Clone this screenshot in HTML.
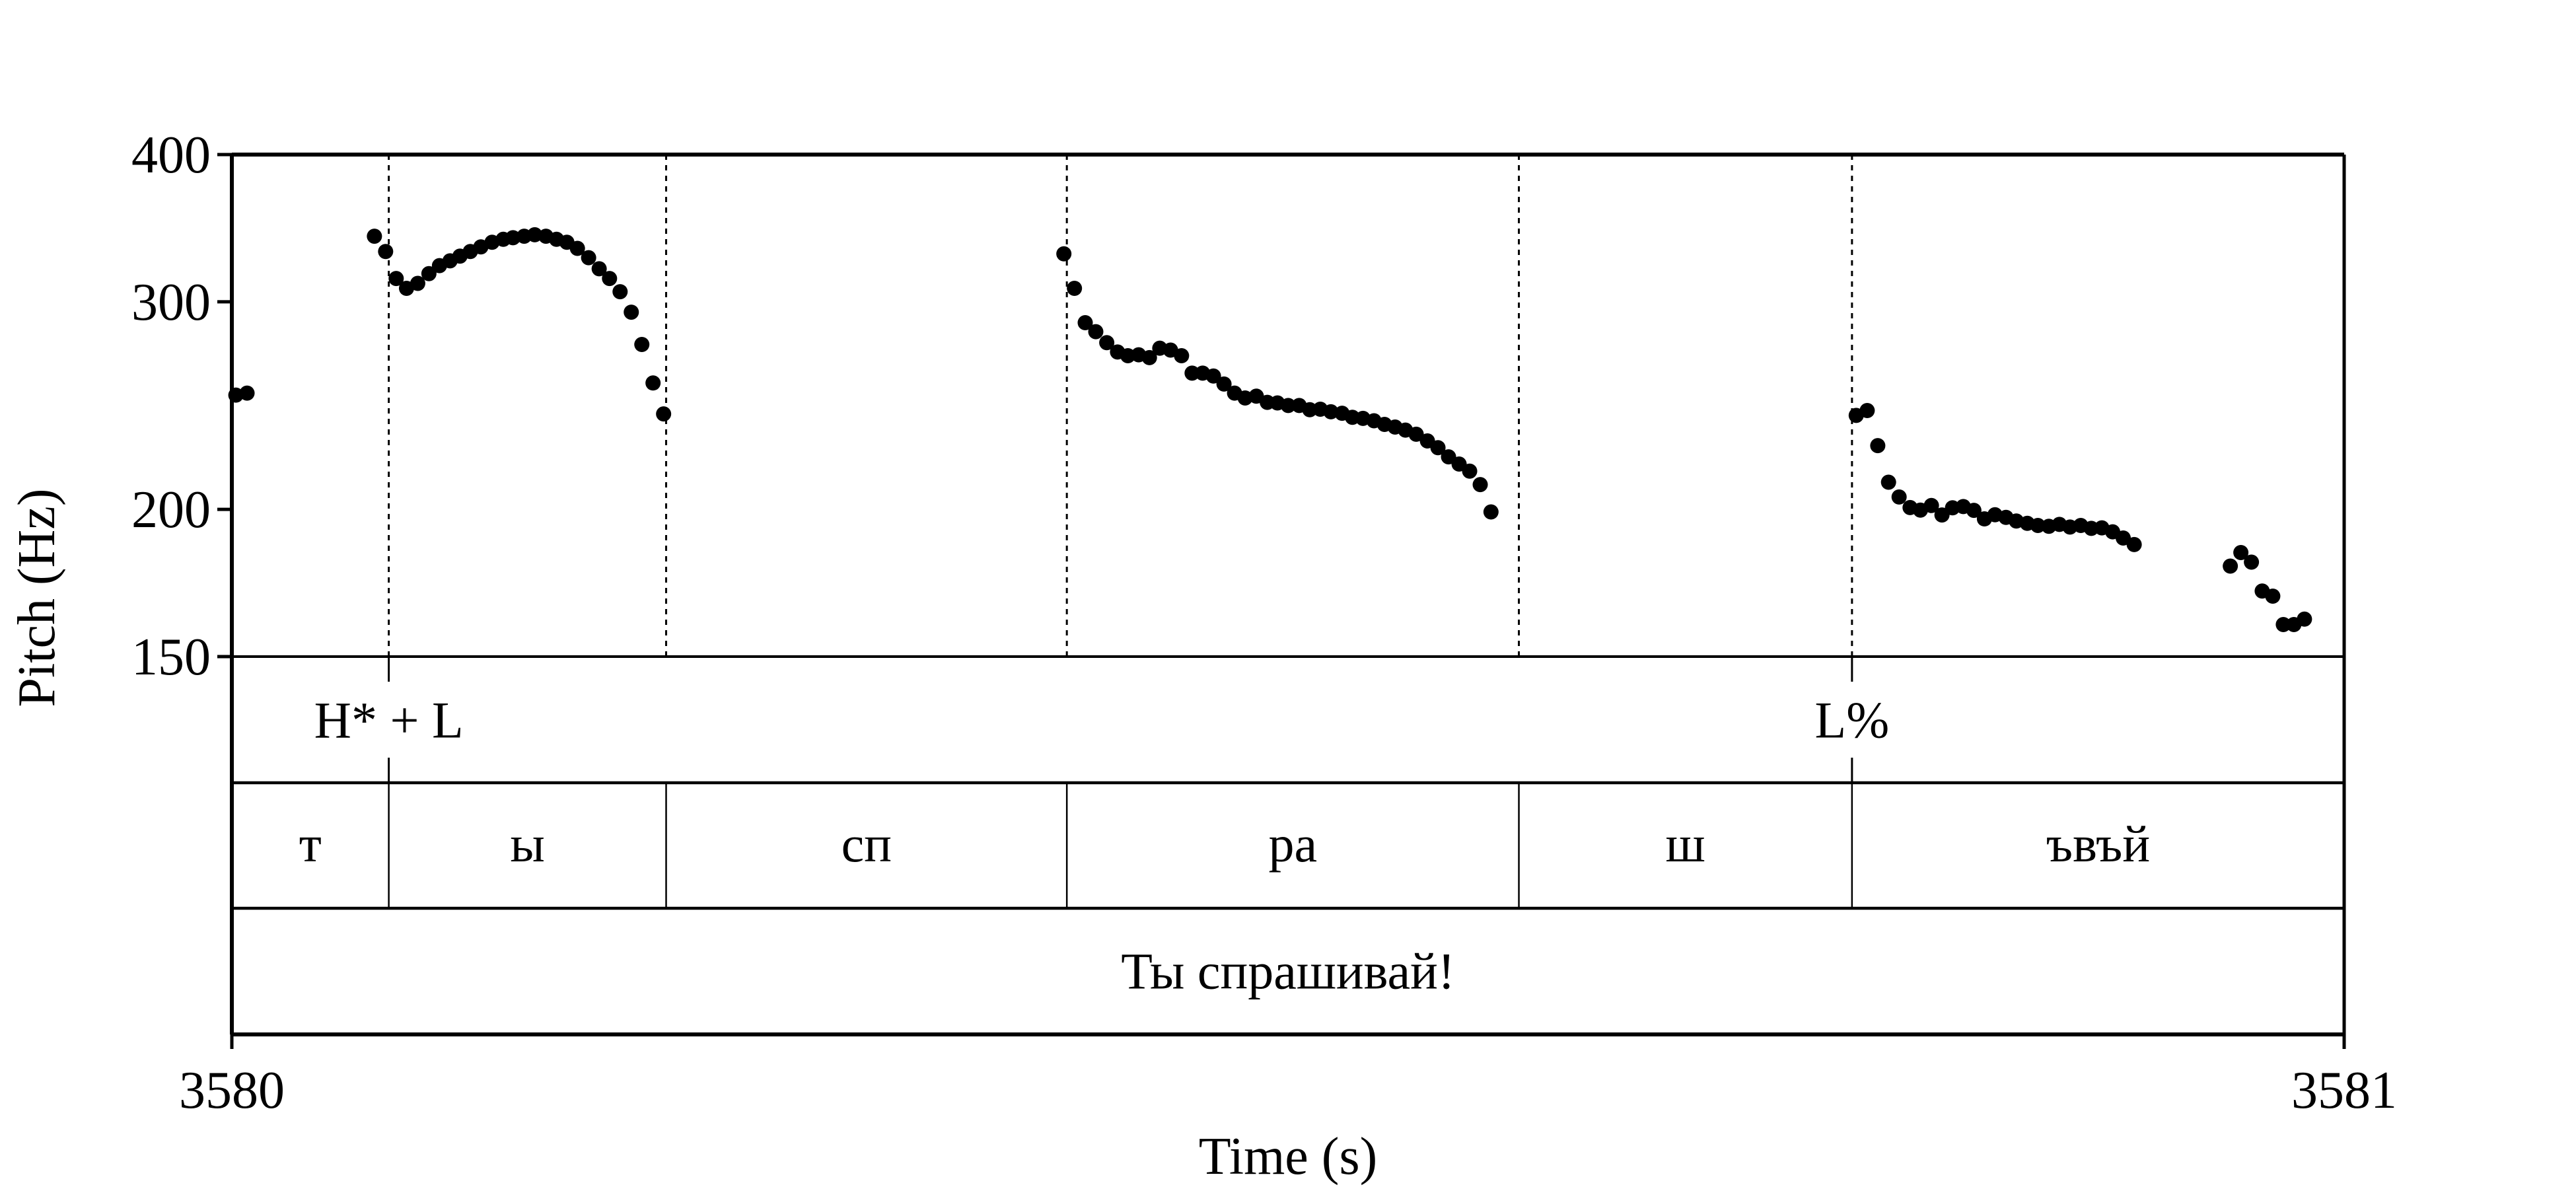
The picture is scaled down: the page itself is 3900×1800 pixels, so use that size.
<!DOCTYPE html>
<html><head><meta charset="utf-8"><style>
html,body{margin:0;padding:0;background:#fff}
svg{display:block}
text{font-family:"Liberation Serif",serif;fill:#000}
</style></head><body>
<svg id="chart" width="3900" height="1800" viewBox="0 0 3900 1800" xmlns="http://www.w3.org/2000/svg">
<g id="grid"></g>
<g id="dots"></g>
<g id="tiers"></g>
<g id="axes"></g>
</svg>
<script>
const ns="http://www.w3.org/2000/svg";
const times=[0.0019,0.0072,0.0675,0.0728,0.0778,0.0827,0.0880,0.0933,0.0983,0.1033,0.1080,0.1129,0.1179,0.1232,0.1285,0.1331,0.1384,0.1434,0.1487,0.1537,0.1586,0.1636,0.1689,0.1739,0.1788,0.1838,0.1891,0.1941,0.1994,0.2044,
0.3939,0.3989,0.4040,0.4090,0.4142,0.4193,0.4242,0.4293,0.4344,0.4393,0.4444,0.4496,0.4546,0.4596,0.4647,0.4697,0.4747,0.4797,0.4850,0.4902,0.4950,0.5001,0.5053,0.5103,0.5153,0.5203,0.5256,0.5305,0.5355,0.5407,0.5457,0.5507,0.5556,0.5607,0.5660,0.5710,0.5760,0.5810,0.5860,0.5910,0.5961,
0.7690,0.7742,0.7792,0.7843,0.7893,0.7945,0.7994,0.8046,0.8096,0.8146,0.8197,0.8247,0.8297,0.8347,0.8399,0.8448,0.8500,0.8550,0.8602,0.8652,0.8702,0.8753,0.8803,0.8853,0.8904,0.8954,0.9006,0.9461,0.9511,0.9561,0.9612,0.9662,0.9712,0.9762,0.9812];
const pitch=[250,251,341,331,314,308,311,317,322,325,328,331,334,337,339,340,341,342,341,339,337,333,327,320,314,306,294,276,256,241,
329.5,308,288,283,277,272,270,270.5,269,274,273,270,261,261,259.5,255.5,251,248.6,249.5,246.5,246.2,245,245,243,243.2,242,241.3,239.4,238.9,237.8,236.1,234.9,233.5,231.6,228.6,225.6,221.6,218.5,215.5,209.9,199,
240.3,242.6,226.5,210.9,204.9,200.7,199.7,201.5,197.8,200.6,201.1,199.6,196.3,197.9,196.9,195.5,194.6,193.8,193.5,194.2,193.2,193.8,192.7,192.9,191.4,189.1,186.7,179,183.8,180.4,170.5,168.8,159.7,159.7,161.4];
const yTicks=[150,200,300,400];
const xTickLabels=["3580","3581"];
const xTickValues=[0,1];
const boundaries=[0.0743,0.2056,0.3953,0.6093,0.7670];
const toneTimes=[0.0743,0.7670];
const toneLabels=["H* + L","L%"];
const segLabels=["т","ы","сп","ра","ш","ъвъй"];
const segEdges=[0,0.0743,0.2056,0.3953,0.6093,0.7670,1];
const sentence="Ты спрашивай!";

const L=351,R=3549,T=234,PB=994,T1=1185,T2=1375,B=1566;
const X=t=>L+t*(R-L);
const Y=h=>PB-(Math.log(h/150)/Math.log(400/150))*(PB-T);
function el(tag,attrs,parent,txt){const e=document.createElementNS(ns,tag);for(const k in attrs)e.setAttribute(k,attrs[k]);if(txt!==undefined)e.textContent=txt;parent.appendChild(e);return e;}
const grid=document.getElementById('grid'),dots=document.getElementById('dots'),tiers=document.getElementById('tiers'),axes=document.getElementById('axes');

boundaries.forEach(b=>{
 const l=el('line',{x1:X(b),x2:X(b),y1:T,y2:PB,stroke:'#000','stroke-width':3,'stroke-dasharray':'8 8'},grid);
 
 
});
times.forEach((t,i)=>{
 const c=el('ellipse',{cx:X(t),cy:Y(pitch[i]),rx:11.5,ry:11.5,fill:'#000'},dots);
 
 
});
toneTimes.forEach((t,i)=>{
 const a=el('line',{x1:X(t),x2:X(t),y1:PB,y2:PB+38,stroke:'#000','stroke-width':3},tiers);
 
 
 const b=el('line',{x1:X(t),x2:X(t),y1:T1-38,y2:T1,stroke:'#000','stroke-width':3},tiers);
 
 
 const tx=el('text',{x:X(t),y:(PB+T1)/2+27,'font-size':78,'text-anchor':'middle'},tiers,toneLabels[i]);
 
 
});
for(let i=1;i<segEdges.length-1;i++){
 const l=el('line',{x1:X(segEdges[i]),x2:X(segEdges[i]),y1:T1,y2:T2,stroke:'#000','stroke-width':2.5},tiers);
 
 
}
segLabels.forEach((s,i)=>{
 const tx=el('text',{x:(X(segEdges[i])+X(segEdges[i+1]))/2,y:(T1+T2)/2+24,'font-size':78,'text-anchor':'middle'},tiers,s);
 
 
});
const st=el('text',{x:(L+R)/2,y:(T2+B)/2+26,'font-size':78,'text-anchor':'middle'},tiers,sentence);


[[L,T,R,T,6],[L,T,L,B,6],[R,T,R,B,5],[L,B,R,B,6],[L,PB,R,PB,4],[L,T1,R,T1,4.5],[L,T2,R,T2,4.5]].forEach(s=>{
 const l=el('line',{x1:s[0],y1:s[1],x2:s[2],y2:s[3],stroke:'#000','stroke-width':s[4]},axes);
 
 
});
yTicks.forEach(v=>{
 const l=el('line',{x1:L-22,x2:L,y1:Y(v),y2:Y(v),stroke:'#000','stroke-width':5},axes);
 
 
 const tx=el('text',{x:L-32,y:Y(v)+27,'font-size':80,'text-anchor':'end'},axes,String(v));
 
 
});
xTickValues.forEach((v,i)=>{
 const l=el('line',{x1:X(v),x2:X(v),y1:B,y2:B+22,stroke:'#000','stroke-width':5},axes);
 
 
 const tx=el('text',{x:X(v),y:1677,'font-size':80,'text-anchor':'middle'},axes,xTickLabels[i]);
 
 
});
const xt=el('text',{x:(L+R)/2,y:1777,'font-size':80,'text-anchor':'middle'},axes,"Time (s)");


const yt=el('text',{x:0,y:0,'font-size':80,'text-anchor':'middle',transform:'translate(82,905) rotate(-90)'},axes,"Pitch (Hz)");


</script>
</body></html>
